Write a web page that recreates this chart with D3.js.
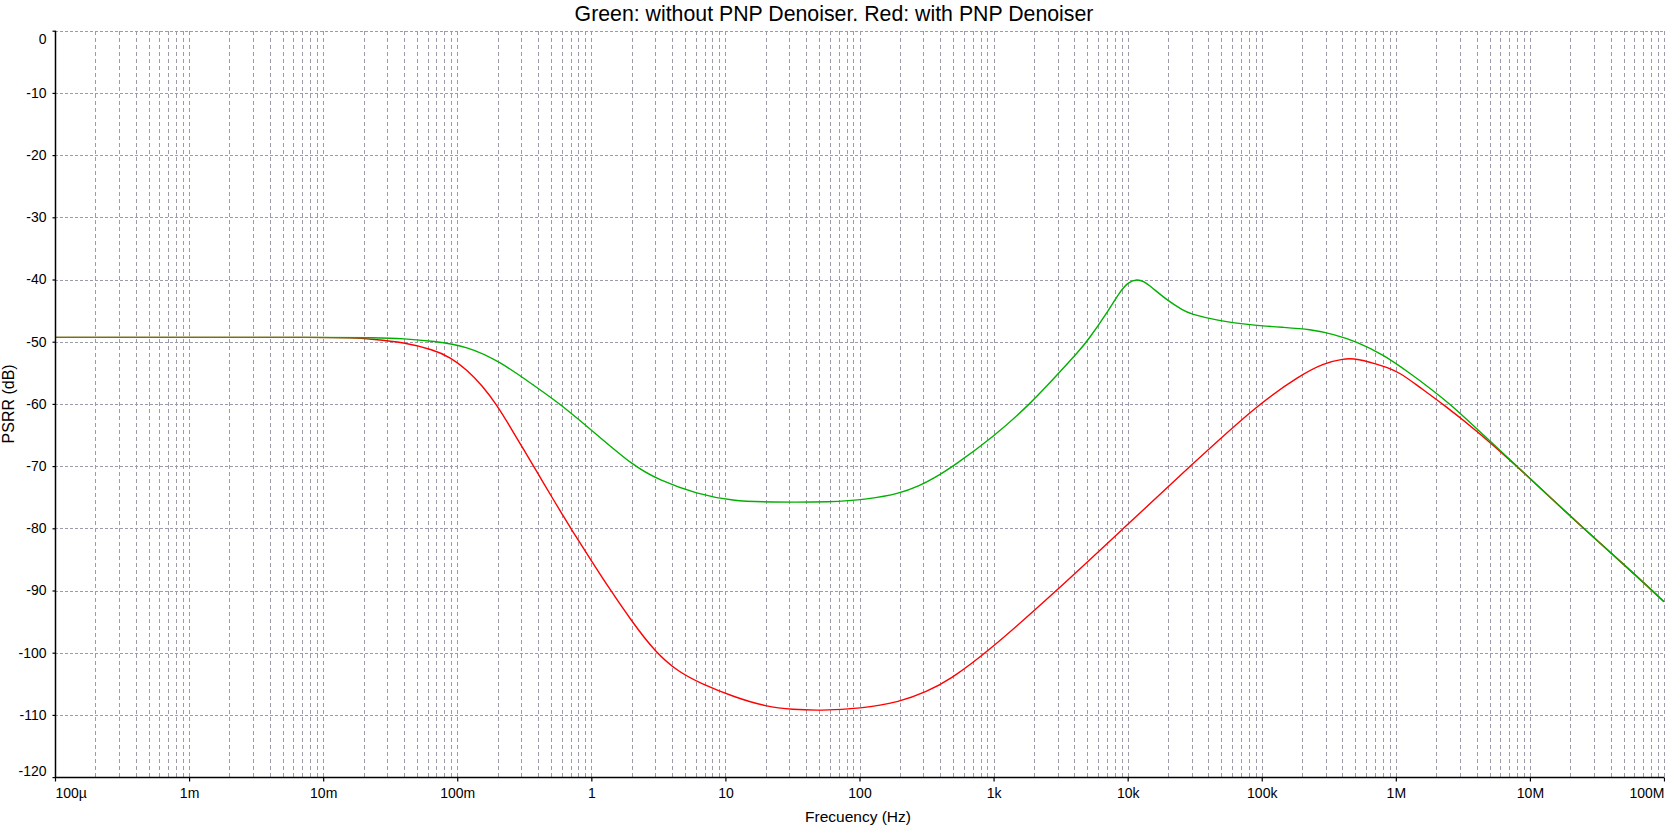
<!DOCTYPE html>
<html>
<head>
<meta charset="utf-8">
<script src="https://cdn.jsdelivr.net/npm/d3@7"></script>
<style>
  html, body { margin: 0; padding: 0; background: #fff; }
  svg { display: block; font-family: "Liberation Sans", Arial, sans-serif; }
</style>
</head>
<body>
<svg id="chart" width="1665" height="827"></svg>
<script>
// ---- data ----
const titleText = "Green: without PNP Denoiser. Red: with PNP Denoiser";
const xLabelText = "Frecuency (Hz)";
const yLabelText = "PSRR (dB)";

const xTickValues = [1e-4, 1e-3, 1e-2, 1e-1, 1, 10, 100, 1e3, 1e4, 1e5, 1e6, 1e7, 1e8];
const xTickLabels = ["100\u00b5", "1m", "10m", "100m", "1", "10", "100", "1k", "10k", "100k", "1M", "10M", "100M"];
const yTickValues = [0, -10, -20, -30, -40, -50, -60, -70, -80, -90, -100, -110, -120];

// Green: without PNP denoiser (frequency in Hz, PSRR in dB)
const freqGreen = [1e-4, 1e-3, 0.01, 0.0251, 0.0398, 0.0665, 0.118, 0.209, 0.371, 0.586, 1.04, 2.065,
  3.17, 6.14, 11.48, 20.37, 63.1, 113.5, 200.9, 283.1, 355.6, 502.3, 1000, 1875, 2965, 4406, 4966,
  6998, 8710, 10140, 11750, 13180, 15030, 19590, 26060, 29240, 46240, 81850, 145200, 229600, 342800,
  511700, 809100, 1.279e6, 1.803e6, 2.541e6, 4.508e6, 8.0e6, 1e7, 2.506e7, 5.916e7, 1e8];
const psrrGreen = [-49.3, -49.3, -49.3, -49.35, -49.5, -49.9, -50.7, -53.2, -57.0, -60.0, -64.5, -70.0,
  -72.2, -74.5, -75.6, -75.8, -75.8, -75.35, -74.4, -73.1, -72.0, -70.0, -65.3, -60.0, -55.4, -51.3, -50.0,
  -45.4, -42.0, -40.4, -39.95, -40.3, -41.2, -43.3, -45.0, -45.5, -46.6, -47.3, -47.7, -48.0, -48.8,
  -50.0, -52.1, -55.1, -57.5, -60.0, -65.0, -70.0, -72.0, -80.0, -87.2, -91.8];

// Red: with PNP denoiser (frequency in Hz, PSRR in dB)
const freqRed = [1e-4, 1e-3, 0.01, 0.0158, 0.0237, 0.0398, 0.0665, 0.0887, 0.118, 0.153, 0.198, 0.242,
  0.295, 0.371, 0.429, 0.513, 0.621, 0.697, 1.0, 1.384, 1.995, 2.992, 4.467, 6.486, 11.48, 20.37, 31.6,
  50.9, 101.2, 200.9, 316.2, 474.2, 891.3, 2965, 9311, 29240, 94400, 193600, 286400, 407400, 512900,
  809100, 1.079e6, 1.435e6, 2.265e6, 4.009e6, 8.0e6, 1e7, 2.506e7, 5.916e7, 1e8];
const psrrRed = [-49.3, -49.3, -49.3, -49.35, -49.6, -50.1, -51.3, -52.5, -54.5, -57.0, -60.2, -63.3,
  -66.4, -70.05, -72.3, -75.15, -78.1, -79.9, -85.2, -89.9, -94.9, -99.9, -103.1, -104.9, -107.1, -108.7, -109.15,
  -109.3, -109.0, -107.9, -106.3, -104.3, -100.0, -90.0, -80.0, -70.0, -60.0, -55.4, -53.5, -52.7, -52.7,
  -53.9, -55.0, -57.0, -60.1, -64.3, -70.05, -72.0, -80.0, -87.2, -91.8];

// ---- layout ----
const svg = d3.select("#chart");
const plotLeft = 55, plotRight = 1664, plotTop = 30.7, plotBottom = 777.1;

const x = d3.scaleLog().domain([1e-4, 1e8]).range([plotLeft, plotRight]);
const y = d3.scaleLinear().domain([-120, 0]).range([plotBottom, plotTop]);

// ---- grid ----
const gridColor = "#9d9bab";
const minorVals = [];
for (let e = -4; e < 8; e++) {
  for (let m = 1; m <= 9; m++) {
    const v = m * Math.pow(10, e);
    if (v > 1e-4) minorVals.push(v);
  }
}
minorVals.push(1e8);

svg.append("g").selectAll("line").data(minorVals).join("line")
  .attr("x1", d => Math.round(x(d)) + 0.5).attr("x2", d => Math.round(x(d)) + 0.5)
  .attr("y1", plotTop).attr("y2", plotBottom)
  .attr("stroke", gridColor).attr("stroke-width", 1)
  .attr("stroke-dasharray", "4,3")
  .attr("shape-rendering", "crispEdges");

svg.append("g").selectAll("line").data(yTickValues.filter(v => v > -120)).join("line")
  .attr("x1", plotLeft).attr("x2", plotRight)
  .attr("y1", d => Math.round(y(d)) + 0.5).attr("y2", d => Math.round(y(d)) + 0.5)
  .attr("stroke", gridColor).attr("stroke-width", 1)
  .attr("stroke-dasharray", "3,2")
  .attr("shape-rendering", "crispEdges");

// ---- curves ----
const line = d3.line().curve(d3.curveBasis);
const redPts = freqRed.map((f, i) => [x(f), y(psrrRed[i])]);
const greenPts = freqGreen.map((f, i) => [x(f), y(psrrGreen[i])]);

svg.append("path").attr("d", line(redPts))
  .attr("fill", "none").attr("stroke", "#ff0000").attr("stroke-width", 1.4);
svg.append("path").attr("d", line(greenPts))
  .attr("fill", "none").attr("stroke", "#00b000").attr("stroke-width", 1.4);

// ---- axes ----
const xAxis = d3.axisBottom(x)
  .tickValues(xTickValues)
  .tickFormat((d, i) => xTickLabels[i])
  .tickSize(4).tickPadding(7);
const gx = svg.append("g").attr("transform", `translate(0,${Math.round(plotBottom) + 0.5})`).call(xAxis);
gx.select(".domain").attr("stroke", "#000").attr("stroke-width", 1.5).attr("d", `M${plotLeft},0H${plotRight}`);
gx.selectAll(".tick line").attr("stroke", "#000").attr("stroke-width", 1.2);
gx.selectAll(".tick text").attr("font-size", 14).attr("fill", "#000")
  .attr("font-family", "'Liberation Sans', Arial, sans-serif");
gx.selectAll(".tick text").filter((d, i) => i === 0).attr("text-anchor", "start");
gx.selectAll(".tick text").filter((d, i) => i === xTickValues.length - 1).attr("text-anchor", "end");

const yAxis = d3.axisLeft(y)
  .tickValues(yTickValues)
  .tickFormat(d3.format("d"))
  .tickSize(3).tickPadding(6);
const gy = svg.append("g").attr("transform", `translate(${plotLeft + 0.5},0)`).call(yAxis);
gy.select(".domain").attr("stroke", "#000").attr("stroke-width", 1.5).attr("d", `M0,${plotTop}V${plotBottom}`);
gy.selectAll(".tick line").attr("stroke", "#000").attr("stroke-width", 1.2);
gy.selectAll(".tick text").attr("font-size", 14).attr("fill", "#000")
  .attr("font-family", "'Liberation Sans', Arial, sans-serif")
  .text(d => String(d));
gy.selectAll(".tick text").filter(d => d === 0).attr("dy", "0.95em");
gy.selectAll(".tick text").filter(d => d === -120).attr("dy", "-0.1em");

// ---- texts ----
svg.append("text").attr("x", 834).attr("y", 21)
  .attr("text-anchor", "middle").attr("font-size", 21.3).attr("fill", "#000")
  .text(titleText);

svg.append("text").attr("x", 858).attr("y", 822)
  .attr("text-anchor", "middle").attr("font-size", 15.5).attr("fill", "#000")
  .text(xLabelText);

svg.append("text").attr("transform", `translate(14,${(plotTop + plotBottom) / 2}) rotate(-90)`)
  .attr("text-anchor", "middle").attr("font-size", 16).attr("fill", "#000")
  .text(yLabelText);
</script>
</body>
</html>
